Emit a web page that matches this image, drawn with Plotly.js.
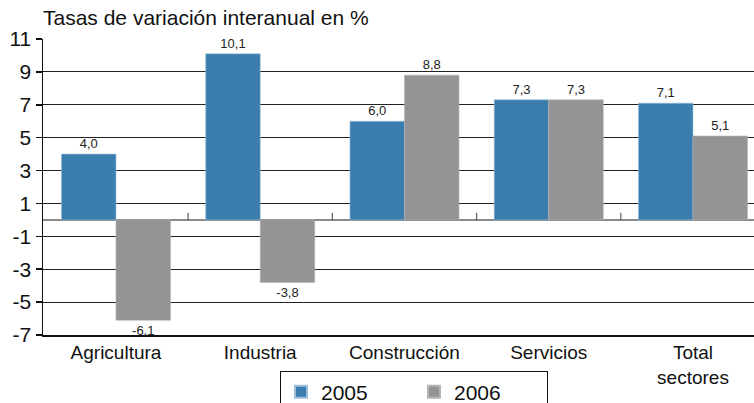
<!DOCTYPE html>
<html><head><meta charset="utf-8">
<script src="https://cdn.plot.ly/plotly-3.0.1.min.js"></script>
<style>html,body{margin:0;padding:0;background:#fff;}#chart{width:754px;height:403px;}</style>
</head><body><div id="chart"></div>
<script>
const categories = ['Agricultura', 'Industria', 'Construcción', 'Servicios', 'Total<br>sectores'];
const values2005 = [4.0, 10.1, 6.0, 7.3, 7.1];
const values2006 = [-6.1, -3.8, 8.8, 7.3, 5.1];
const seriesNames = ['2005', '2006'];
const yTicks = [11, 9, 7, 5, 3, 1, -1, -3, -5, -7];

const font = 'Liberation Sans, Arial, Helvetica, sans-serif';
const labelFont = {family: font, size: 13, color: '#222'};
const xRange = [-0.506, 4.423];

const traces = [
  {type: 'bar', x: categories, y: values2005, name: seriesNames[0],
   marker: {color: '#3b7daf', line: {color: '#9cc0dc', width: 0.6}},
   texttemplate: '%{y:.1f}', textposition: 'outside', cliponaxis: false,
   textfont: labelFont, hoverinfo: 'skip'},
  {type: 'bar', x: categories, y: values2006, name: seriesNames[1],
   marker: {color: '#949494', line: {color: '#b5b5b5', width: 0.6}},
   texttemplate: '%{y:.1f}', textposition: 'outside', cliponaxis: false,
   textfont: labelFont, hoverinfo: 'skip'}
];

// small separator ticks on the zero line between categories
const sepShapes = categories.slice(1).map((c, i) => ({
  type: 'line', xref: 'x', yref: 'y', x0: i + 0.5, x1: i + 0.5, y0: 0, y1: 0.43,
  line: {color: '#444', width: 1}, layer: 'above'
}));

const layout = {
  width: 754, height: 403,
  margin: {l: 43, r: 0, t: 39, b: 68, autoexpand: false},
  paper_bgcolor: '#fff', plot_bgcolor: '#fff',
  separators: ',.',
  barmode: 'group', bargap: 0.244, bargroupgap: 0,
  showlegend: true,
  font: {family: font, color: '#111'},
  shapes: sepShapes,
  title: {text: 'Tasas de variación interanual en %', x: 0, xref: 'paper', xanchor: 'left',
          y: 1, yref: 'container', yanchor: 'top', pad: {t: 10, l: 0},
          font: {family: font, size: 21, color: '#111'}},
  xaxis: {type: 'category', range: xRange, showgrid: false, zeroline: false,
          showline: true, linecolor: '#111', linewidth: 1.5,
          ticks: '', tickfont: {family: font, size: 19, color: '#111'},
          fixedrange: true},
  yaxis: {range: [-7, 11], tickvals: yTicks, ticktext: yTicks.map(String),
          showgrid: true, gridcolor: '#222', gridwidth: 1.2,
          zeroline: true, zerolinecolor: '#8a8a8a', zerolinewidth: 1.6,
          showline: true, linecolor: '#111', linewidth: 1.5,
          ticks: 'outside', ticklen: 6, tickcolor: '#111', tickwidth: 1.5,
          tickfont: {family: font, size: 21, color: '#111'}, fixedrange: true},
  legend: {orientation: 'h', x: 0.3333, xanchor: 'left', y: -0.12, yanchor: 'top',
           bordercolor: '#111', borderwidth: 1, bgcolor: '#fff',
           font: {family: font, size: 21, color: '#111'},
           entrywidth: 88, entrywidthmode: 'pixels', itemsizing: 'constant'}
};

Plotly.newPlot('chart', traces, layout, {displayModeBar: false, staticPlot: true});
</script></body></html>
